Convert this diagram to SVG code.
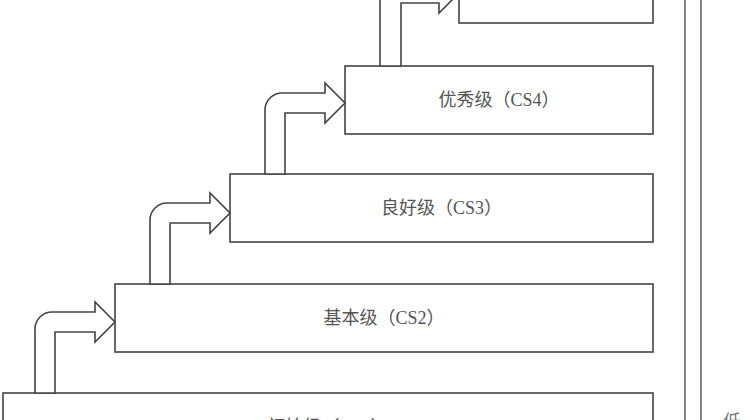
<svg xmlns="http://www.w3.org/2000/svg" width="750" height="420" viewBox="0 0 750 420">
<style>
.box{fill:#fff;stroke:#444;stroke-width:1.6}
.arr{fill:#fff;stroke:#444;stroke-width:1.6;stroke-linejoin:miter}
.lbl{font-family:"Liberation Serif","Noto Sans CJK SC",serif;font-size:18px;fill:#555;text-anchor:middle;dominant-baseline:central}
.side{font-family:"Liberation Serif","Noto Sans CJK SC",serif;font-size:18px;fill:#777;text-anchor:middle}
.vl{stroke:#666;stroke-width:1.6}
</style>
<rect width="750" height="420" fill="#fff"/>
<g id="cs1"><rect class="box" x="3" y="393" width="650" height="68"/><text class="lbl" x="328" y="427">初始级（CS1）</text></g>
<g id="cs2"><rect class="box" x="115" y="284" width="538" height="68"/><text class="lbl" x="384" y="318">基本级（CS2）</text></g>
<g id="cs3"><rect class="box" x="230" y="174" width="423" height="68"/><text class="lbl" x="441.5" y="208">良好级（CS3）</text></g>
<g id="cs4"><rect class="box" x="345" y="66" width="308" height="68"/><text class="lbl" x="499" y="100">优秀级（CS4）</text></g>
<g id="cs5"><rect class="box" x="459" y="-45" width="194" height="68"/><text class="lbl" x="556" y="-11">卓越级（CS5）</text></g>
<g id="connectors">
<path class="arr" d="M35,393 V329 A17,17 0 0 1 52,312 H95 V302 L115,322 L95,342 V332 H55 V393 Z"/>
<path class="arr" d="M150,284 V220 A17,17 0 0 1 167,203 H210 V193 L230,213 L210,233 V223 H170 V284 Z"/>
<path class="arr" d="M265,174 V110 A17,17 0 0 1 282,93 H325 V83 L345,103 L325,123 V113 H285 V174 Z"/>
<path class="arr" d="M380,66 V0 A17,17 0 0 1 397,-17 H439 V-27 L459,-7 L439,13 V3 H401 V66 Z"/>
</g>
<g id="axis">
<line class="vl" x1="685" y1="0" x2="685" y2="420"/>
<line class="vl" x1="701" y1="0" x2="701" y2="420"/>
<text class="side" x="732" y="428">低</text>
</g>
</svg>
